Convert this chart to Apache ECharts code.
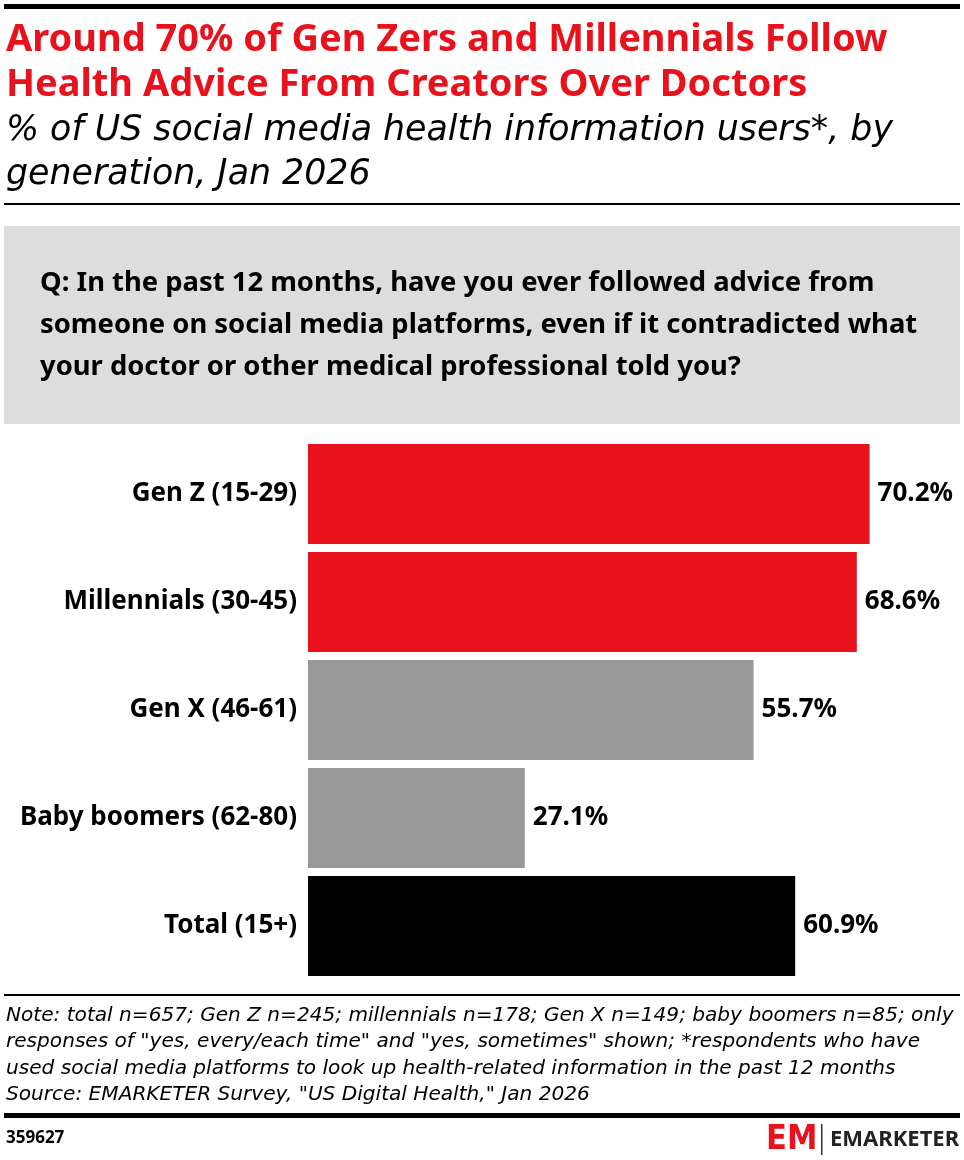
<!DOCTYPE html>
<html>
<head>
<meta charset="utf-8">
<script src="https://cdn.jsdelivr.net/npm/echarts@6/dist/echarts.min.js"></script>
<style>
html,body{margin:0;padding:0;background:#fff;}
#chart{width:964px;height:1160px;}
</style>
</head>
<body>
<div id="chart"></div>
<script>
const categories = ["Gen Z (15-29)", "Millennials (30-45)", "Gen X (46-61)", "Baby boomers (62-80)", "Total (15+)"];
const values = [70.2, 68.6, 55.7, 27.1, 60.9];
const barColors = ["#e8111c", "#e8111c", "#999999", "#999999", "#000000"];
const titleLines = ["Around 70% of Gen Zers and Millennials Follow", "Health Advice From Creators Over Doctors"];
const subtitleLines = ["% of US social media health information users*, by", "generation, Jan 2026"];
const questionLines = [
  "Q: In the past 12 months, have you ever followed advice from",
  "someone on social media platforms, even if it contradicted what",
  "your doctor or other medical professional told you?"
];
const noteLines = [
  "Note: total n=657; Gen Z n=245; millennials n=178; Gen X n=149; baby boomers n=85; only",
  "responses of \"yes, every/each time\" and \"yes, sometimes\" shown; *respondents who have",
  "used social media platforms to look up health-related information in the past 12 months",
  "Source: EMARKETER Survey, \"US Digital Health,\" Jan 2026"
];
const chartId = "359627";

const chart = echarts.init(document.getElementById('chart'), null, {renderer: 'canvas'});

function txt(x, y, text, font, fill, extra) {
  return {type:'text', x:x, y:y, style:Object.assign({text:text, font:font, fill:fill, align:'left', verticalAlign:'middle'}, extra || {})};
}

const graphics = [];
graphics.push({type:'rect', shape:{x:4, y:4, width:956, height:5}, style:{fill:'#000'}});
titleLines.forEach((t, i) => graphics.push(txt(6, 40 + i*45, t, 'bold 38px "Noto Sans"', '#e8111c')));
subtitleLines.forEach((t, i) => graphics.push(txt(6, 131 + i*44, t, 'oblique 34.8px "DejaVu Sans"', '#000')));
graphics.push({type:'rect', shape:{x:4, y:203, width:956, height:2}, style:{fill:'#000'}});
graphics.push({type:'rect', shape:{x:4, y:226, width:956, height:198}, style:{fill:'#dddddd'}});
questionLines.forEach((t, i) => graphics.push(txt(40, 283 + i*42, t, 'bold 27.4px "Noto Sans"', '#000')));
graphics.push({type:'rect', shape:{x:4, y:994, width:956, height:2}, style:{fill:'#000'}});
noteLines.forEach((t, i) => graphics.push(txt(6, 1015.5 + i*26.5, t, 'oblique 20.1px "DejaVu Sans"', '#000')));
graphics.push({type:'rect', shape:{x:4, y:1113, width:956, height:5}, style:{fill:'#000'}});
graphics.push(txt(6, 1138, chartId, 'bold 17px "Noto Sans"', '#000'));
// logo
graphics.push(txt(766, 1140, 'EM', 'bold 34px "DejaVu Sans Condensed"', '#e8111c'));
graphics.push({type:'rect', shape:{x:821, y:1124, width:1.5, height:31}, style:{fill:'#333'}});
graphics.push(txt(830, 1140, 'EMARKETER', 'bold 22px "Noto Sans"', '#222'));

chart.setOption({
  animation:false,
  grid:{left:308, right:16, top:440, height:540, containLabel:false},
  xAxis:{type:'value', min:0, max:80, show:false},
  yAxis:{
    type:'category', data:categories, inverse:true,
    axisLine:{show:false}, axisTick:{show:false},
    axisLabel:{color:'#000', fontFamily:'Noto Sans', fontWeight:'bold', fontSize:26, margin:11}
  },
  series:[{
    type:'bar', barWidth:100,
    data: values.map((v, i) => ({value:v, itemStyle:{color:barColors[i]}})),
    label:{show:true, position:'right', distance:8, color:'#000', fontFamily:'Noto Sans', fontWeight:'bold', fontSize:26,
      formatter:p => p.value.toFixed(1) + '%'}
  }],
  graphic: graphics
});
</script>
</body>
</html>
